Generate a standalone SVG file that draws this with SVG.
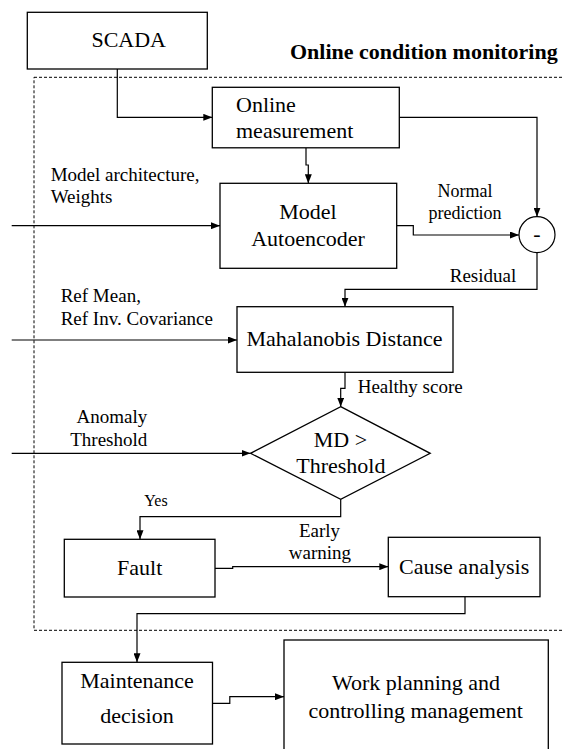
<svg xmlns="http://www.w3.org/2000/svg" width="563" height="749" viewBox="0 0 563 749">
<defs>
<marker id="arr" markerWidth="9" markerHeight="7" refX="9" refY="3.5" orient="auto" markerUnits="userSpaceOnUse">
<path d="M0,0 L9,3.5 L0,7 z" fill="#000"/>
</marker>
<style>
.box{fill:#fff;stroke:#000;stroke-width:1.3}
.con{fill:none;stroke:#000;stroke-width:1.2;marker-end:url(#arr)}
.t{font-family:"Liberation Serif","Times New Roman",serif;font-size:22px;fill:#000}
.l{font-family:"Liberation Serif","Times New Roman",serif;font-size:19px;fill:#000}
.m{text-anchor:middle}
</style>
</defs>
<rect width="563" height="749" fill="#fff"/>
<rect x="34" y="77.3" width="560" height="553" fill="none" stroke="#000" stroke-width="1" stroke-dasharray="3,2"/>
<text class="t" x="290" y="59" style="font-weight:bold">Online condition monitoring</text>
<g id="connectors">
<path class="con" d="M117.3,69 V117.3 H212.3"/>
<path class="con" d="M306,148 V165 H308.3 V183.3"/>
<path class="con" d="M399.3,117.3 H537 V216.7"/>
<path class="con" d="M396.7,225.7 H413.3 V235 H519"/>
<path class="con" d="M537,252.7 V289.3 H345 V306.7"/>
<path class="con" d="M11.7,225.7 H220"/>
<path class="con" d="M11.7,340 H237"/>
<path class="con" d="M345,372.3 V388.3 H340.7 V406.7"/>
<path class="con" d="M11.7,453.3 H250.5"/>
<path class="con" d="M340.7,499.3 V516.7 H140 V539.3"/>
<path class="con" d="M215,568.3 H232.7 V566.7 H388.3"/>
<path class="con" d="M465,596.7 V613.7 H137 V662.3"/>
<path class="con" d="M212.5,703.3 H229.8 V696.7 H284"/>
<text class="l" x="50.7" y="180.7">Model architecture,</text>
<text class="l" x="50.7" y="203.3">Weights</text>
<text class="l m" x="465" y="197.3" style="font-size:18px">Normal</text>
<text class="l m" x="465" y="219.3" style="font-size:18px">prediction</text>
<text class="l m" x="483" y="281.7">Residual</text>
<text class="l" x="60.7" y="301.7">Ref Mean,</text>
<text class="l" x="60.7" y="325">Ref Inv. Covariance</text>
<text class="l" x="357.7" y="393.3">Healthy score</text>
<text class="l" x="147.3" y="423.3" text-anchor="end">Anomaly</text>
<text class="l" x="147.3" y="446" text-anchor="end">Threshold</text>
<text class="l m" x="156" y="505.7" style="font-size:16px">Yes</text>
<text class="l m" x="319.5" y="537.3">Early</text>
<text class="l m" x="320" y="559.3">warning</text>
</g>
<g id="scada">
<rect class="box" x="27.3" y="12.3" width="180" height="56.7"/>
<text class="t m" x="128.7" y="47.3">SCADA</text>
</g>
<g id="online-measurement">
<rect class="box" x="212.3" y="87.3" width="187" height="60.5"/>
<text class="t" x="236" y="111.7">Online</text>
<text class="t" x="236" y="137.7">measurement</text>
</g>
<g id="model-autoencoder">
<rect class="box" x="220" y="183.3" width="176.7" height="85"/>
<text class="t m" x="308" y="219">Model</text>
<text class="t m" x="308" y="246">Autoencoder</text>
</g>
<g id="subtract">
<circle cx="537" cy="234.7" r="18" fill="#fff" stroke="#000" stroke-width="1.2"/>
<text class="t m" x="537" y="241">-</text>
</g>
<g id="mahalanobis">
<rect class="box" x="237" y="306.7" width="216" height="65.6"/>
<text class="t m" x="344.5" y="345.7">Mahalanobis Distance</text>
</g>
<g id="threshold-check">
<polygon class="box" points="340.7,406.7 430.2,453.3 340.7,499.3 250.5,453.3"/>
<text class="t m" x="340.5" y="447.3">MD &gt;</text>
<text class="t m" x="340.8" y="473.3">Threshold</text>
</g>
<g id="fault">
<rect class="box" x="64.3" y="539.3" width="150.7" height="57.7"/>
<text class="t m" x="139.7" y="575">Fault</text>
</g>
<g id="cause-analysis">
<rect class="box" x="388.3" y="537.3" width="151.7" height="59.4"/>
<text class="t m" x="464.2" y="574">Cause analysis</text>
</g>
<g id="maintenance-decision">
<rect class="box" x="62" y="662.3" width="150.5" height="81.7"/>
<text class="t m" x="137" y="688">Maintenance</text>
<text class="t m" x="137" y="722.7">decision</text>
</g>
<g id="work-planning">
<rect class="box" x="284" y="640" width="264.3" height="120"/>
<text class="t m" x="416" y="690">Work planning and</text>
<text class="t m" x="415.6" y="718.3">controlling management</text>
</g>
</svg>
